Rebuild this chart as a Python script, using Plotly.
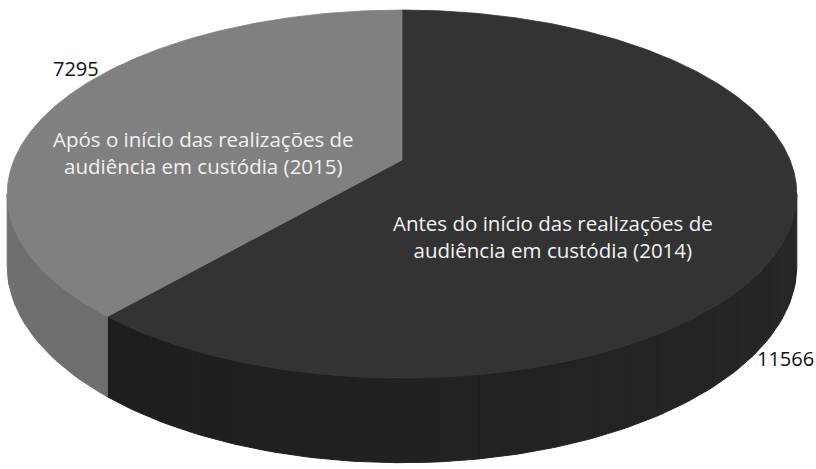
import math
import plotly.graph_objects as go

# ---- data ----
categories = [
    "Antes do início das realizações de<br>audiência em custódia (2014)",
    "Após o início das realizações de<br>audiência em custódia (2015)",
]
values = [11566, 7295]
top_colors = ["#333333", "#808080"]
side_colors_start = ["#272727", "#707070"]
side_colors_end = ["#1b1b1b", "#686868"]

# ---- projection (perspective disk) ----
X0, Y0 = 402.0, 160.0
B, A, K, D = 388.0, 177.7, 0.185, 69.0


def proj_uv(u, v, h=0.0):
    den = 1 + K * v
    return X0 + B * u / den, Y0 + (-A * v + D * h) / den


def proj(theta_deg, h=0.0):
    t = math.radians(theta_deg)
    return proj_uv(math.sin(t), math.cos(t), h)


def arc(a, b, h=0.0, n=None):
    if n is None:
        n = max(2, int(abs(b - a) * 2))
    pts = [proj(a + (b - a) * i / n, h) for i in range(n + 1)]
    return [p[0] for p in pts], [p[1] for p in pts]


def lerp_color(c1, c2, t):
    a = [int(c1[i:i + 2], 16) for i in (1, 3, 5)]
    b = [int(c2[i:i + 2], 16) for i in (1, 3, 5)]
    c = [round(a[j] + (b[j] - a[j]) * t) for j in range(3)]
    return "#%02x%02x%02x" % tuple(c)


total = sum(values)
angles = []
start = 0.0
for v in values:
    span = 360.0 * v / total
    angles.append((start, start + span))
    start += span

vis_lo = math.degrees(math.acos(-K))
vis_hi = 360 - vis_lo

fig = go.Figure()

# rims (visible side walls)
for i, (a, b) in enumerate(angles):
    lo, hi = max(a, vis_lo), min(b, vis_hi)
    if hi <= lo:
        continue
    nseg = max(1, int((hi - lo) / 5))
    for s in range(nseg):
        sa = lo + (hi - lo) * s / nseg
        sb = lo + (hi - lo) * (s + 1) / nseg
        tx, ty = arc(sa, sb, 0.0)
        bx, by = arc(sb, sa, 1.0)
        t = (sa + sb - 2 * vis_lo) / (2 * (vis_hi - vis_lo))
        t = 1 - t if i == 0 else t
        t = 1 - t  # darker towards the right
        col = lerp_color(side_colors_start[i], side_colors_end[i], t)
        fig.add_trace(go.Scatter(
            x=tx + bx + [tx[0]], y=ty + by + [ty[0]],
            mode="lines", fill="toself", fillcolor=col,
            line=dict(color=col, width=1), hoverinfo="skip",
            showlegend=False))

# top faces
cx, cy = proj_uv(0.0, 0.0)
for i, (a, b) in enumerate(angles):
    ax, ay = arc(a, b, 0.0)
    fig.add_trace(go.Scatter(
        x=[cx] + ax + [cx], y=[cy] + ay + [cy],
        mode="lines", fill="toself", fillcolor=top_colors[i],
        line=dict(color=top_colors[i], width=0.8),
        name=categories[i].replace("<br>", " "), hoverinfo="name",
        showlegend=False))

FONT = "Open Sans"
annotations = [
    dict(x=553, y=236, text=categories[0], font=dict(color="#f2f2f2", size=20.5, family=FONT)),
    dict(x=203, y=152, text=categories[1], font=dict(color="#f2f2f2", size=20.5, family=FONT)),
    dict(x=785, y=358, text=str(values[0]), font=dict(color="#111111", size=20, family=FONT)),
    dict(x=76, y=68, text=str(values[1]), font=dict(color="#111111", size=20, family=FONT)),
]
for an in annotations:
    an.update(xref="x", yref="y", showarrow=False, align="center",
              xanchor="center", yanchor="middle")

fig.update_layout(
    width=816, height=469,
    margin=dict(l=0, r=0, t=0, b=0),
    paper_bgcolor="white", plot_bgcolor="white",
    xaxis=dict(range=[0, 816], visible=False, fixedrange=True),
    yaxis=dict(range=[469, 0], visible=False, fixedrange=True),
    annotations=annotations,
)

fig.write_html("out.html")
